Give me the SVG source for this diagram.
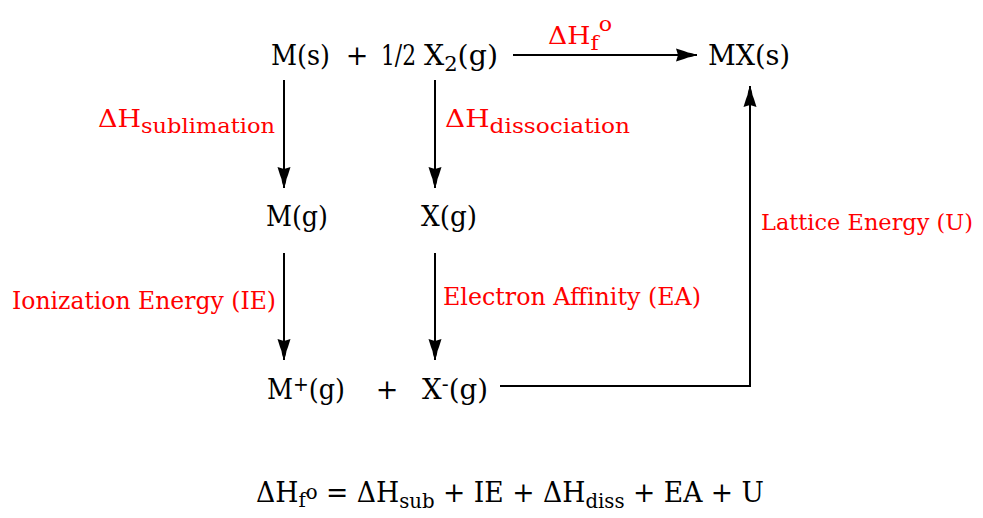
<svg xmlns="http://www.w3.org/2000/svg" width="983" height="518" viewBox="0 0 983 518">
<style>
.blk{font-family:"DejaVu Serif","Liberation Serif",serif;font-size:27px;fill:#000}
.red{font-family:"DejaVu Serif","Liberation Serif",serif;font-size:24px;fill:#ff0000}
.sub{font-size:20px}
.ln{stroke:#000;stroke-width:2;fill:none}
</style>
<defs>
<marker id="ah" markerUnits="userSpaceOnUse" markerWidth="24" markerHeight="14" viewBox="-22 -7 24 14" refX="0" refY="0" orient="auto">
<path d="M0,0 L-5,-1.8 L-9,-2.5 L-13,-4 L-21,-6.5 L-19,0 L-21,6.5 L-13,4 L-9,2.5 L-5,1.8 Z" fill="#000"/>
</marker>
</defs>
<rect width="983" height="518" fill="#fff"/>
<g id="connectors">
<line class="ln" x1="513" y1="55" x2="697" y2="55" marker-end="url(#ah)"/>
<line class="ln" x1="284" y1="80" x2="284" y2="188" marker-end="url(#ah)"/>
<line class="ln" x1="435" y1="80" x2="435" y2="188" marker-end="url(#ah)"/>
<line class="ln" x1="284" y1="253" x2="284" y2="360" marker-end="url(#ah)"/>
<line class="ln" x1="435" y1="253" x2="435" y2="360" marker-end="url(#ah)"/>
<polyline class="ln" points="500,386 750,386 750,86" marker-end="url(#ah)"/>
</g>
<g id="labels">
<text class="red" x="548" y="44" textLength="64" lengthAdjust="spacingAndGlyphs">ΔH<tspan class="sub" dy="6">f</tspan><tspan class="sub" dy="-19">o</tspan></text>
<text class="red" x="98" y="127" textLength="177" lengthAdjust="spacingAndGlyphs">ΔH<tspan class="sub" dy="6">sublimation</tspan></text>
<text class="red" x="445" y="127" textLength="185" lengthAdjust="spacingAndGlyphs">ΔH<tspan class="sub" dy="6">dissociation</tspan></text>
<text class="red" x="12" y="309" textLength="264" lengthAdjust="spacingAndGlyphs">Ionization Energy (IE)</text>
<text class="red" x="443" y="305" textLength="258" lengthAdjust="spacingAndGlyphs">Electron Affinity (EA)</text>
<text class="red" x="761" y="230" style="font-size:22px" textLength="212" lengthAdjust="spacingAndGlyphs">Lattice Energy (U)</text>
</g>
<g id="node-reactants">
<text class="blk" x="271" y="65" textLength="59" lengthAdjust="spacingAndGlyphs">M(s)</text>
<text class="blk" x="357" y="65" text-anchor="middle">+</text>
<text class="blk" x="381" y="65" textLength="35" lengthAdjust="spacingAndGlyphs">1/2</text>
<text class="blk" x="424" y="65" textLength="74" lengthAdjust="spacingAndGlyphs">X<tspan class="sub" dy="6">2</tspan><tspan dy="-6">(g)</tspan></text>
</g>
<g id="node-product">
<text class="blk" x="708" y="65" textLength="82" lengthAdjust="spacingAndGlyphs">MX(s)</text>
</g>
<g id="node-Mg">
<text class="blk" x="266" y="226" textLength="62" lengthAdjust="spacingAndGlyphs">M(g)</text>
</g>
<g id="node-Xg">
<text class="blk" x="421" y="226" textLength="56" lengthAdjust="spacingAndGlyphs">X(g)</text>
</g>
<g id="node-ions">
<text class="blk" x="267" y="399" textLength="78" lengthAdjust="spacingAndGlyphs">M<tspan class="sub" dy="-8">+</tspan><tspan dy="8">(g)</tspan></text>
<text class="blk" x="387" y="399" text-anchor="middle">+</text>
<text class="blk" x="422" y="399" textLength="66" lengthAdjust="spacingAndGlyphs">X<tspan class="sub" dy="-8">-</tspan><tspan dy="8">(g)</tspan></text>
</g>
<g id="equation">
<text class="blk" x="256" y="502" textLength="508" lengthAdjust="spacingAndGlyphs">ΔH<tspan class="sub" dy="5">f</tspan><tspan class="sub" dy="-8">o</tspan><tspan dy="3"> = ΔH</tspan><tspan class="sub" dy="6">sub</tspan><tspan dy="-6"> + IE + ΔH</tspan><tspan class="sub" dy="6">diss</tspan><tspan dy="-6"> + EA + U</tspan></text>
</g>
</svg>
